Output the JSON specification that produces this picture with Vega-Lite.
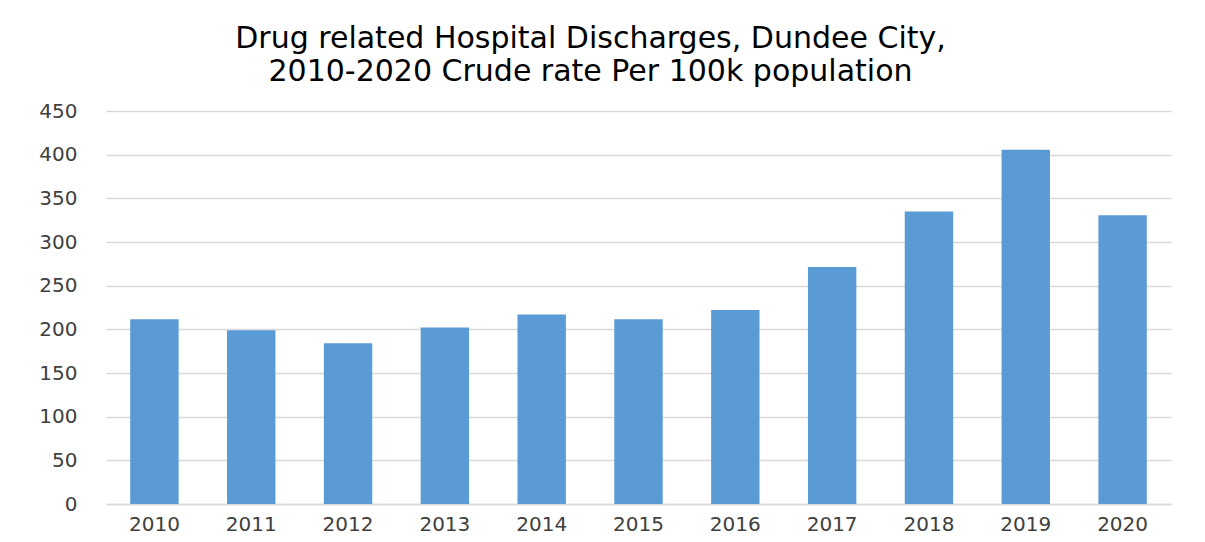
{
  "$schema": "https://vega.github.io/schema/vega-lite/v6.json",
  "width": 1065,
  "height": 393,
  "autosize": {"type": "none"},
  "padding": {"left": 106, "top": 111, "right": 34, "bottom": 38},
  "background": "white",
  "title": {
    "text": ["Drug related Hospital Discharges, Dundee City,", "2010-2020  Crude rate Per 100k population"],
    "font": "DejaVu Sans",
    "fontSize": 30,
    "fontWeight": "normal",
    "color": "#000000",
    "anchor": "middle",
    "dx": -48,
    "offset": 14,
    "lineHeight": 33
  },
  "data": {
    "values": [
      {"year": "2010", "rate": 211.5},
      {"year": "2011", "rate": 199},
      {"year": "2012", "rate": 184},
      {"year": "2013", "rate": 202},
      {"year": "2014", "rate": 217},
      {"year": "2015", "rate": 211.5},
      {"year": "2016", "rate": 222},
      {"year": "2017", "rate": 271.5},
      {"year": "2018", "rate": 335},
      {"year": "2019", "rate": 405.5},
      {"year": "2020", "rate": 330.5}
    ]
  },
  "mark": {"type": "bar", "color": "#5B9BD5"},
  "encoding": {
    "x": {
      "field": "year",
      "type": "nominal",
      "title": null,
      "scale": {"paddingInner": 0.5, "paddingOuter": 0.25},
      "axis": {
        "labelAngle": 0,
        "labelFont": "DejaVu Sans",
        "labelFontSize": 20,
        "labelColor": "#404040",
        "labelPadding": 10,
        "ticks": false,
        "domainColor": "#D9D9D9",
        "domainWidth": 1.5
      }
    },
    "y": {
      "field": "rate",
      "type": "quantitative",
      "title": null,
      "scale": {"domain": [0, 450]},
      "axis": {
        "values": [0, 50, 100, 150, 200, 250, 300, 350, 400, 450],
        "labelFont": "DejaVu Sans",
        "labelFontSize": 20,
        "labelColor": "#404040",
        "labelPadding": 29,
        "ticks": false,
        "domain": false,
        "gridColor": "#D9D9D9",
        "gridWidth": 1.5
      }
    }
  },
  "config": {"view": {"stroke": null}}
}
